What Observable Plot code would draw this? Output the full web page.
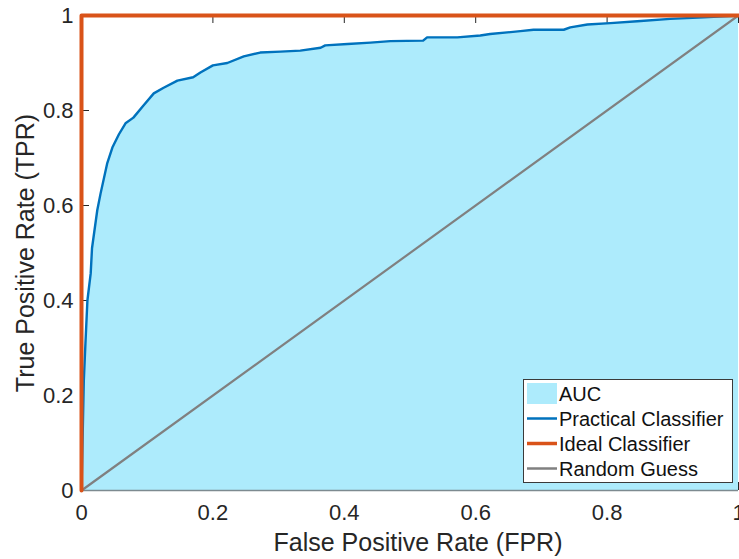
<!DOCTYPE html>
<html>
<head>
<meta charset="utf-8">
<script src="https://cdn.jsdelivr.net/npm/d3@7"></script>
<script src="https://cdn.jsdelivr.net/npm/@observablehq/plot@0.6"></script>
<style>
  html, body { margin: 0; padding: 0; background: #fff; }
  #chart { width: 739px; height: 559px; }
</style>
</head>
<body>
<div id="chart"></div>
<script>
// ---- data ----
const fpr = [0, 0.0035, 0.006, 0.009, 0.014, 0.016, 0.024, 0.029, 0.039, 0.047, 0.057, 0.067, 0.079, 0.094, 0.11, 0.125, 0.146, 0.17, 0.181, 0.20, 0.222, 0.247, 0.272, 0.303, 0.333, 0.364, 0.371, 0.405, 0.44, 0.47, 0.52, 0.526, 0.572, 0.607, 0.622, 0.668, 0.688, 0.734, 0.744, 0.770, 0.805, 0.846, 0.896, 0.947, 1];
const tpr = [0, 0.23, 0.31, 0.40, 0.457, 0.51, 0.59, 0.625, 0.688, 0.722, 0.75, 0.773, 0.785, 0.81, 0.836, 0.848, 0.863, 0.87, 0.88, 0.895, 0.90, 0.914, 0.922, 0.924, 0.926, 0.932, 0.937, 0.940, 0.943, 0.946, 0.947, 0.954, 0.954, 0.958, 0.961, 0.967, 0.970, 0.970, 0.975, 0.981, 0.984, 0.988, 0.993, 0.996, 1];
const idealFpr = [0, 0, 1];
const idealTpr = [0, 1, 1];
const randomFpr = [0, 1];
const randomTpr = [0, 1];
const xTicks = [0, 0.2, 0.4, 0.6, 0.8, 1];
const yTicks = [0, 0.2, 0.4, 0.6, 0.8, 1];
const seriesNames = ["AUC", "Practical Classifier", "Ideal Classifier", "Random Guess"];
const seriesColors = ["#ADEBFC", "#0072BD", "#D95319", "#808080"];
const xLabel = "False Positive Rate (FPR)";
const yLabel = "True Positive Rate (TPR)";

const curve = fpr.map((x, i) => ({x, y: tpr[i]}));
const ideal = idealFpr.map((x, i) => ({x, y: idealTpr[i]}));
const random = randomFpr.map((x, i) => ({x, y: randomTpr[i]}));
const fmt = d => String(+d.toFixed(1));

const W = 739, H = 559, ML = 81, MR = 1, MT = 15, MB = 69;
const frameW = W - ML - MR, frameH = H - MT - MB, tickLen = 8;

const chart = Plot.plot({
  width: W,
  height: H,
  marginLeft: ML,
  marginRight: MR,
  marginTop: MT,
  marginBottom: MB,
  x: {domain: [0, 1]},
  y: {domain: [0, 1]},
  style: {fontFamily: "'Liberation Sans', Arial, sans-serif", color: "#262626", background: "white", overflow: "hidden"},
  marks: [
    // inward tick marks (under the data, as in the reference)
    Plot.ruleX(xTicks, {x: d => d, insetBottom: frameH - tickLen, stroke: "#262626", strokeWidth: 1}),
    Plot.ruleX(xTicks, {x: d => d, insetTop: frameH - tickLen, stroke: "#262626", strokeWidth: 1}),
    Plot.ruleY(yTicks, {y: d => d, insetRight: frameW - tickLen, stroke: "#262626", strokeWidth: 1}),
    Plot.areaY(curve, {x: "x", y: "y", fill: seriesColors[0]}),
    Plot.ruleY([0], {stroke: "#7d8a90", strokeWidth: 1.5}),
    Plot.line(random, {x: "x", y: "y", stroke: seriesColors[3], strokeWidth: 2.2}),
    Plot.line(curve, {x: "x", y: "y", stroke: seriesColors[1], strokeWidth: 2.4}),
    Plot.line(ideal, {x: "x", y: "y", stroke: seriesColors[2], strokeWidth: 4}),
    Plot.axisX(xTicks, {anchor: "bottom", tickSize: 0, tickPadding: 14, fontSize: 22, tickFormat: fmt, label: null}),
    Plot.axisY(yTicks, {anchor: "left", tickSize: 0, tickPadding: 8, fontSize: 22, tickFormat: fmt, label: null}),
    Plot.text([xLabel], {frameAnchor: "bottom", dy: 52, dx: 8, lineAnchor: "middle", textAnchor: "middle", fontSize: 25, fill: "#262626"}),
    Plot.text([yLabel], {frameAnchor: "left", rotate: -90, dx: -56, lineAnchor: "middle", textAnchor: "middle", fontSize: 25, fill: "#262626"})
  ]
});

// ---- legend (drawn into the same SVG) ----
const svg = d3.select(chart);
const lg = svg.append("g")
  .attr("font-family", "'Liberation Sans', Arial, sans-serif")
  .attr("text-anchor", "start");
lg.append("rect").attr("x", 523.5).attr("y", 379.5).attr("width", 209).attr("height", 103)
  .attr("fill", "white").attr("stroke", "#3a3a3a").attr("stroke-width", 1);
seriesNames.forEach((name, i) => {
  const cy = 393.5 + i * 25;
  if (i === 0) {
    lg.append("rect").attr("x", 527).attr("y", 383).attr("width", 30).attr("height", 21).attr("fill", seriesColors[0]);
  } else {
    lg.append("line").attr("x1", 527).attr("x2", 557).attr("y1", cy).attr("y2", cy)
      .attr("stroke", seriesColors[i]).attr("stroke-width", i === 2 ? 3.5 : 2.5);
  }
  lg.append("text").attr("x", 559).attr("y", cy + 7.3).attr("font-size", 20).attr("fill", "#111")
    .attr("text-anchor", "start").text(name);
});

document.getElementById("chart").appendChild(chart);
</script>
</body>
</html>
